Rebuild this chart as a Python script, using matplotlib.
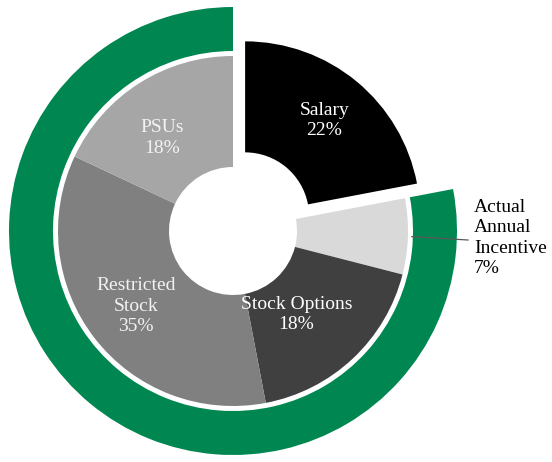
import matplotlib.pyplot as plt
import numpy as np

# pay mix data (clockwise from 12 o'clock)
labels = ['Salary', 'Actual\nAnnual\nIncentive', 'Stock Options', 'Restricted\nStock', 'PSUs']
shares = [22, 7, 18, 35, 18]
colors = ['#000000', '#d9d9d9', '#404040', '#808080', '#a6a6a6']
text_colors = ['#ffffff', '#000000', '#ffffff', '#f2f2f2', '#f2f2f2']
label_r = [0.71, 0, 0.60, 0.70, 0.67]
label_da = [0, 0, -6, 0, 5]   # small angular nudges, degrees

# outer ring: everything except salary
ring_vals = [22, 78]

plt.rcParams['font.family'] = ['Liberation Serif', 'DejaVu Serif']

fig = plt.figure(figsize=(5.52, 4.62), dpi=100)
ax = fig.add_axes([0, 0, 1, 1])

cx, cy = 233, 231
r_pie, r_hole = 175, 64
r_out, r_in = 224, 180

ax.pie(ring_vals, radius=r_out, center=(cx, cy), startangle=90, counterclock=False,
       colors=['none', '#008751'], wedgeprops=dict(width=r_out - r_in, linewidth=0))

# explode is an absolute offset here (radius != 1)
explode = [19, 0, 0, 0, 0]
wedges, _ = ax.pie(shares, radius=r_pie, center=(cx, cy), startangle=90, counterclock=False,
                   colors=colors, explode=explode,
                   wedgeprops=dict(width=r_pie - r_hole, linewidth=0))

for i, w in enumerate(wedges):
    if label_r[i] == 0:
        continue
    ang = np.deg2rad((w.theta1 + w.theta2) / 2 + label_da[i])
    wx, wy = w.center
    ax.text(wx + label_r[i] * r_pie * np.cos(ang), wy + label_r[i] * r_pie * np.sin(ang),
            f'{labels[i]}\n{shares[i]}%', ha='center', va='center',
            color=text_colors[i], fontsize=14, linespacing=1.28)

# callout for the small slice
w = wedges[1]
ang = np.deg2rad((w.theta1 + w.theta2) / 2)
ax.plot([cx + 179 * np.cos(ang), 468], [cy + 179 * np.sin(ang), 462 - 240],
        color='#595959', lw=0.9)
ax.text(474, 462 - 238, f'{labels[1]}\n{shares[1]}%', ha='left', va='center',
        color='#000000', fontsize=14, linespacing=1.28)

ax.set_xlim(0, 552)
ax.set_ylim(0, 462)
ax.set_aspect('equal')
ax.axis('off')

fig.savefig('out.png', dpi=100, facecolor='white')
